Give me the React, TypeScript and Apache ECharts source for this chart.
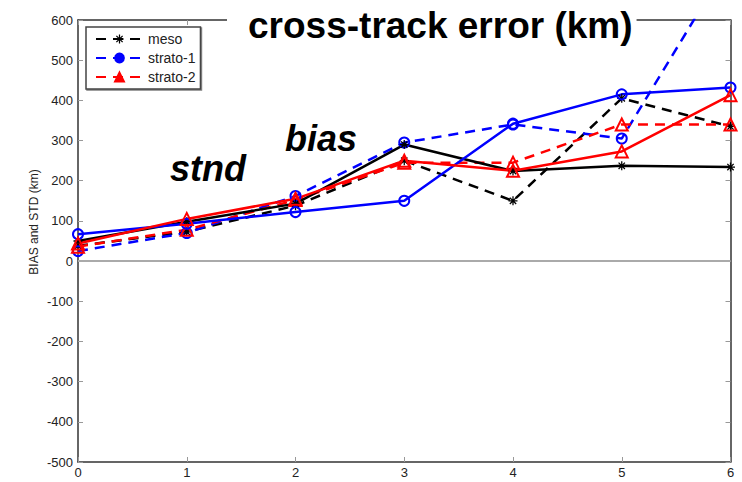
import { useEffect, useRef } from "react";
import * as echarts from "echarts";

// Forecast day on the x axis
const forecastDays = [0, 1, 2, 3, 4, 5, 6];

// Cross-track error (km): bias drawn dashed, standard deviation drawn solid
const mesoBias = [38, 73, 138, 250, 150, 405, 335];
const mesoStnd = [50, 98, 143, 290, 224, 237, 234];
const strato1Bias = [25, 70, 162, 295, 340, 305, 750];
const strato1Stnd = [67, 93, 122, 150, 342, 415, 432];
const strato2Bias = [36, 78, 152, 245, 245, 340, 340];
const strato2Stnd = [44, 105, 155, 250, 225, 273, 413];

const legendNames = ["meso", "strato-1", "strato-2"];

const FONT = "'Liberation Sans', Arial, Helvetica, sans-serif";

// asterisk marker built from four thin bars
const ASTERISK =
  "path://M-0.7,-5L0.7,-5L0.7,5L-0.7,5Z M-5,-0.7L5,-0.7L5,0.7L-5,0.7Z " +
  "M-4.03,-3.04L-3.04,-4.03L4.03,3.04L3.04,4.03Z M3.04,-4.03L4.03,-3.04L-3.04,4.03L-4.03,3.04Z";

const pairs = (vals: number[]) => forecastDays.map((d, i) => [d, vals[i]]);

export default function App() {
  const ref = useRef<HTMLDivElement>(null);

  useEffect(() => {
    if (!ref.current) return;
    const chart = echarts.init(ref.current, undefined, { renderer: "svg" });

    const dash = [10, 7];
    const mk = (
      name: string,
      vals: number[],
      color: string,
      dashed: boolean,
      symbol: string,
      size: number,
      hollow: boolean
    ) => ({
      name,
      type: "line",
      data: pairs(vals),
      symbol,
      symbolSize: size,
      showSymbol: true,
      clip: true,
      lineStyle: { color, width: 2.5, type: dashed ? dash : "solid" },
      itemStyle: hollow
        ? { color: "rgba(0,0,0,0)", borderColor: color, borderWidth: 2 }
        : { color, borderColor: color, borderWidth: 0 },
      emphasis: { disabled: true },
    });

    const axisLine = { show: true, onZero: false, lineStyle: { color: "#333", width: 1.5 } };
    const tick = { show: true, inside: true, length: 5, lineStyle: { color: "#999", width: 1 } };
    const label = { fontSize: 13, color: "#222", fontFamily: FONT };

    const option: any = {
      animation: false,
      title: {
        text: "cross-track error (km)",
        left: 227,
        top: 7,
        padding: [0, 4, 2, 21],
        backgroundColor: "#fff",
        textStyle: { fontSize: 37, fontWeight: "bold", color: "#000", fontFamily: FONT },
      },
      legend: {
        data: [
          { name: legendNames[0], itemStyle: { color: "#000" } },
          { name: legendNames[1], itemStyle: { color: "#00f", borderColor: "#00f" } },
          { name: legendNames[2], itemStyle: { color: "#f00", borderColor: "#f00" } },
        ],
        orient: "vertical",
        left: 86,
        top: 27,
        padding: [5, 5, 5, 9],
        itemGap: 5,
        itemWidth: 47,
        itemHeight: 11,
        backgroundColor: "#fff",
        borderColor: "#444",
        borderWidth: 1.5,
        borderRadius: 0,
        shadowColor: "rgba(0,0,0,0.5)",
        shadowOffsetX: 1,
        shadowOffsetY: 1,
        textStyle: { fontSize: 14, color: "#222", fontFamily: FONT, lineHeight: 14 },
      },
      grid: { left: 78, right: 11.5, top: 20, bottom: 20, containLabel: false },
      xAxis: [
        {
          type: "value",
          min: 0,
          max: 6,
          interval: 1,
          position: "bottom",
          axisLine,
          axisTick: tick,
          axisLabel: { ...label, margin: 4 },
          splitLine: { show: false },
        },
        {
          type: "value",
          min: 0,
          max: 6,
          interval: 1,
          position: "top",
          axisLine,
          axisTick: tick,
          axisLabel: { show: false },
          splitLine: { show: false },
        },
      ],
      yAxis: [
        {
          type: "value",
          min: -500,
          max: 600,
          interval: 100,
          position: "left",
          axisLine,
          axisTick: tick,
          axisLabel: { ...label, margin: 5 },
          splitLine: { show: false },
        },
        {
          type: "value",
          min: -500,
          max: 600,
          interval: 100,
          position: "right",
          axisLine,
          axisTick: tick,
          axisLabel: { show: false },
          splitLine: { show: false },
        },
      ],
      series: [
        {
          ...mk(legendNames[0], mesoBias, "#000", true, ASTERISK, 9, false),
          markLine: {
            silent: true,
            symbol: ["none", "none"],
            label: { show: false },
            lineStyle: { color: "#aaa", type: "solid", width: 2 },
            data: [{ yAxis: 0 }],
            z: 1,
          },
        },
        mk(legendNames[1], strato1Bias, "#00f", true, "circle", 10, true),
        mk(legendNames[2], strato2Bias, "#f00", true, "triangle", 12, true),
        mk("meso stnd", mesoStnd, "#000", false, ASTERISK, 9, false),
        mk("strato-1 stnd", strato1Stnd, "#00f", false, "circle", 10, true),
        mk("strato-2 stnd", strato2Stnd, "#f00", false, "triangle", 12, true),
      ],
      graphic: [
        {
          type: "text",
          x: 34,
          y: 222,
          rotation: Math.PI / 2,
          z: 100,
          style: {
            text: "BIAS and STD (km)",
            font: `12px ${FONT}`,
            fill: "#222",
            align: "center",
            verticalAlign: "middle",
          },
        },
        {
          type: "text",
          x: 208,
          y: 168,
          z: 100,
          style: {
            text: "stnd",
            font: `italic bold 36px ${FONT}`,
            fill: "#000",
            align: "center",
            verticalAlign: "middle",
          },
        },
        {
          type: "text",
          x: 321,
          y: 138,
          z: 100,
          style: {
            text: "bias",
            font: `italic bold 36px ${FONT}`,
            fill: "#000",
            align: "center",
            verticalAlign: "middle",
          },
        },
      ],
    };

    chart.setOption(option);
    return () => chart.dispose();
  }, []);

  return <div ref={ref} style={{ width: 742, height: 482, position: "absolute", left: 0, top: 0 }} />;
}
